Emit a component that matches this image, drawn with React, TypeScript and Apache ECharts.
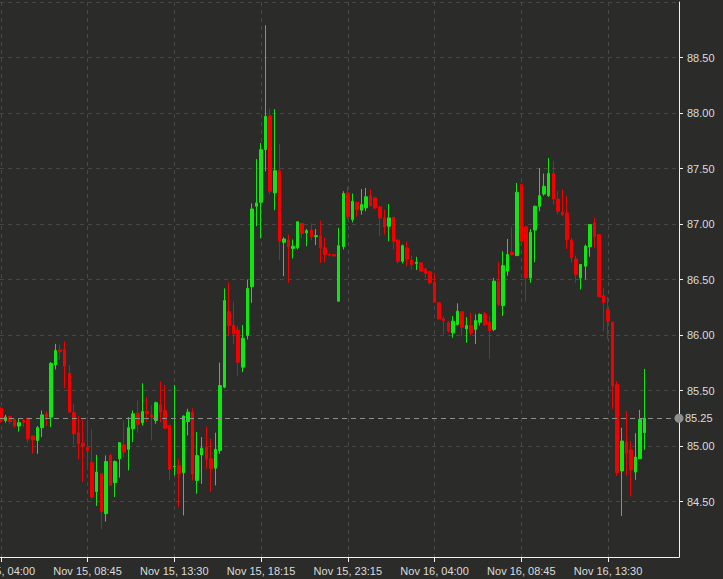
import React, { useEffect, useRef } from "react";
import * as echarts from "echarts";

// Candle OHLC values (15-minute bars)
const opens = [
  85.34, 85.23, 85.265, 85.24, 85.18, 85.23, 85.25, 85.09, 85.05, 85.165,
  85.29, 85.26, 85.73, 85.865, 85.87, 85.655, 85.3, 85.12, 85.025, 84.99,
  84.85, 84.59, 84.75, 84.39, 84.915, 84.67, 84.885, 85.01, 84.97, 85.155,
  85.295, 85.21, 85.31, 85.28, 85.23, 85.37, 85.32, 85.185, 84.813, 84.825,
  84.76, 85.22, 85.305, 84.69, 84.92, 84.99, 84.885, 84.8, 84.96, 85.53,
  86.21, 86.09, 86.045, 85.71, 85.995, 86.435, 87.16, 87.195, 87.67, 87.975,
  87.28, 87.48, 86.835, 86.855, 86.78, 86.785, 87.005, 86.92, 86.945, 86.885,
  86.895, 86.785, 86.727, 86.724, 86.305, 86.795, 87.28, 87.04, 87.195, 87.125,
  87.145, 87.255, 87.235, 87.155, 87.055, 86.98, 87.06, 86.855, 86.665, 86.785,
  86.675, 86.645, 86.65, 86.595, 86.57, 86.475, 86.29, 86.145, 86.11, 86.02,
  86.095, 86.21, 86.055, 86.085, 86.05, 86.115, 86.19, 86.115, 86.05, 86.485,
  86.265, 86.575, 86.745, 86.715, 87.355, 86.975, 86.515, 86.945, 87.16, 87.27,
  87.255, 87.455, 87.225, 87.105, 87.1, 86.855, 86.685, 86.515, 86.62, 86.795,
  87.01, 86.905, 86.355, 86.23, 86.115, 85.555, 84.775, 85.035, 84.965, 84.765,
  84.885, 85.12,
];
const closes = [
  85.23, 85.26, 85.22, 85.18, 85.21, 85.215, 85.065, 85.055, 85.165, 85.28,
  85.26, 85.745, 85.86, 85.85, 85.72, 85.305, 85.11, 85.02, 85.0, 84.96,
  84.54, 84.765, 84.41, 84.86, 84.645, 84.86, 85.03, 84.945, 85.165, 85.29,
  85.195, 85.31, 85.29, 85.26, 85.39, 85.305, 85.16, 84.79, 84.817, 84.75,
  85.27, 85.305, 84.75, 84.915, 84.98, 84.88, 84.795, 84.97, 85.545, 86.31,
  86.085, 86.01, 85.755, 85.97, 86.42, 87.135, 87.19, 87.67, 87.97, 87.295,
  87.48, 86.845, 86.865, 86.795, 86.8, 87.02, 86.915, 86.94, 86.885, 86.895,
  86.785, 86.725, 86.72, 86.712, 86.805, 87.275, 87.065, 87.205, 87.13, 87.175,
  87.245, 87.165, 87.145, 87.055, 86.975, 87.055, 86.845, 86.665, 86.805, 86.685,
  86.635, 86.655, 86.575, 86.555, 86.47, 86.295, 86.145, 86.13, 86.035, 86.125,
  86.215, 86.07, 86.085, 86.02, 86.13, 86.185, 86.095, 86.04, 86.485, 86.275,
  86.625, 86.725, 86.725, 87.285, 86.845, 86.515, 86.925, 87.16, 87.255, 87.34,
  87.455, 87.225, 87.115, 87.085, 86.86, 86.695, 86.545, 86.635, 86.8, 86.995,
  86.885, 86.345, 86.29, 86.125, 85.54, 84.76, 85.045, 84.935, 84.785, 84.9,
  85.24, 85.25,
];
const lows = [
  85.21, 85.21, 85.2, 85.165, 85.13, 85.17, 85.03, 84.93, 84.93, 85.08,
  85.18, 85.17, 85.69, 85.78, 85.52, 85.3, 85.01, 84.88, 84.675, 84.82,
  84.525, 84.46, 84.25, 84.32, 84.64, 84.54, 84.715, 84.9, 84.78, 85.035,
  85.12, 85.185, 85.215, 85.05, 85.2, 85.215, 85.155, 84.69, 84.735, 84.45,
  84.375, 85.095, 84.69, 84.57, 84.66, 84.795, 84.585, 84.645, 84.93, 85.52,
  85.99, 85.915, 85.63, 85.665, 85.96, 86.29, 86.98, 86.87, 87.475, 87.27,
  87.125, 86.675, 86.53, 86.47, 86.69, 86.77, 86.875, 86.8, 86.855, 86.81,
  86.65, 86.655, 86.71, 86.71, 86.3, 86.77, 87.045, 87.015, 87.065, 87.085,
  87.115, 87.16, 87.135, 86.89, 86.905, 86.845, 86.77, 86.645, 86.645, 86.62,
  86.59, 86.585, 86.575, 86.515, 86.455, 86.295, 86.14, 86.005, 86.02, 85.975,
  86.085, 85.99, 85.93, 85.995, 85.92, 86.085, 86.08, 85.785, 86.035, 86.26,
  86.17, 86.535, 86.715, 86.715, 86.845, 86.305, 86.47, 86.655, 87.115, 87.255,
  87.245, 87.175, 87.085, 87.07, 86.775, 86.65, 86.47, 86.41, 86.5, 86.705,
  86.785, 86.345, 86.035, 85.96, 85.335, 84.73, 84.37, 84.735, 84.545, 84.695,
  84.885, 84.965,
];
const highs = [
  85.35, 85.28, 85.27, 85.24, 85.25, 85.245, 85.25, 85.09, 85.18, 85.32,
  85.31, 85.755, 85.92, 85.915, 85.94, 85.73, 85.38, 85.27, 85.24, 85.26,
  85.15, 84.92, 84.75, 84.915, 84.93, 84.87, 85.035, 85.23, 85.26, 85.32,
  85.41, 85.565, 85.44, 85.37, 85.4, 85.58, 85.55, 85.185, 85.55, 84.885,
  85.275, 85.335, 85.34, 85.125, 85.08, 85.175, 85.065, 85.12, 85.75, 86.42,
  86.475, 86.3, 86.08, 86.09, 86.5, 87.185, 87.585, 87.73, 88.79, 88.04,
  88.035, 87.72, 86.88, 86.905, 86.86, 87.02, 87.005, 86.955, 87.005, 86.955,
  87.03, 86.875, 86.73, 86.727, 86.965, 87.295, 87.34, 87.275, 87.195, 87.315,
  87.325, 87.31, 87.24, 87.155, 87.13, 87.18, 87.06, 86.86, 86.815, 86.845,
  86.715, 86.705, 86.65, 86.605, 86.57, 86.56, 86.29, 86.17, 86.125, 86.17,
  86.285, 86.21, 86.16, 86.2, 86.185, 86.195, 86.21, 86.17, 86.515, 86.655,
  86.755, 86.865, 86.975, 87.37, 87.365, 86.985, 86.955, 87.165, 87.505, 87.455,
  87.595, 87.565, 87.295, 87.31, 87.25, 86.875, 86.715, 86.635, 86.815, 86.995,
  87.055, 86.905, 86.425, 86.345, 86.115, 85.585, 85.165, 85.315, 85.045, 85.115,
  85.325, 85.695,
];

// x-axis tick positions (bar index) and their labels
const tickIndex = [0, 19, 38, 57, 76, 95, 114, 133];
const tickLabels = [
  "Nov 15, 04:00",
  "Nov 15, 08:45",
  "Nov 15, 13:30",
  "Nov 15, 18:15",
  "Nov 15, 23:15",
  "Nov 16, 04:00",
  "Nov 16, 08:45",
  "Nov 16, 13:30",
];

const lastPrice = 85.25;

const FONT = "'Liberation Sans', Arial, sans-serif";

export default function App() {
  const ref = useRef<HTMLDivElement>(null);

  useEffect(() => {
    document.body.style.margin = "0";
    document.body.style.background = "#2b2c2a";
    if (!ref.current) return;
    const chart = echarts.init(ref.current, undefined, { renderer: "svg" });

    const candles = opens.map((o, i) => [i, o, closes[i], lows[i], highs[i]]);

    chart.setOption({
      animation: false,
      backgroundColor: "#2b2c2a",
      grid: {
        left: 0,
        right: 44,
        top: 2,
        bottom: 22,
        containLabel: false,
        outerBoundsMode: "none",
      },
      xAxis: {
        type: "value",
        min: -0.175,
        max: 148.53,
        position: "bottom",
        axisLine: { show: true, onZero: false, lineStyle: { color: "#f2f2f2", width: 1 } },
        axisTick: {
          show: true,
          customValues: tickIndex,
          length: 5,
          lineStyle: { color: "#f2f2f2" },
        },
        axisLabel: {
          customValues: tickIndex,
          formatter: (v: number) => tickLabels[tickIndex.indexOf(Math.round(v))] ?? "",
          color: "#dcdcdc",
          fontSize: 11,
          fontFamily: FONT,
          margin: 8,
        },
        splitLine: {
          show: true,
          lineStyle: { color: "#474846", type: [4, 4], width: 1 },
        },
      },
      yAxis: {
        type: "value",
        position: "right",
        min: 84,
        max: 89,
        interval: 0.5,
        axisLine: { show: true, onZero: false, lineStyle: { color: "#f2f2f2", width: 1 } },
        axisTick: { show: true, length: 4, lineStyle: { color: "#f2f2f2" } },
        axisLabel: {
          showMinLabel: false,
          showMaxLabel: false,
          formatter: (v: number) => v.toFixed(2),
          color: "#dcdcdc",
          fontSize: 11,
          fontFamily: FONT,
          margin: 8,
        },
        splitLine: {
          show: true,
          lineStyle: { color: "#474846", type: [4, 4], width: 1 },
        },
      },
      series: [
        {
          type: "candlestick",
          data: candles,
          barWidth: 3,
          itemStyle: {
            color: "#12e612",
            color0: "#f20000",
            borderColor: "#12e612",
            borderColor0: "#f20000",
            borderWidth: 1,
          },
          markLine: {
            silent: true,
            symbol: ["none", "circle"],
            symbolSize: 9,
            data: [{ yAxis: lastPrice }],
            lineStyle: { color: "#8e8e8e", type: [5, 4], width: 1 },
            itemStyle: { color: "#9a9a9a" },
            label: {
              show: true,
              position: "end",
              formatter: () => lastPrice.toFixed(2),
              color: "#dcdcdc",
              fontSize: 11,
              fontFamily: FONT,
              distance: 6,
            },
          },
        },
      ],
    });

    return () => chart.dispose();
  }, []);

  return <div ref={ref} style={{ width: 723, height: 579 }} />;
}
